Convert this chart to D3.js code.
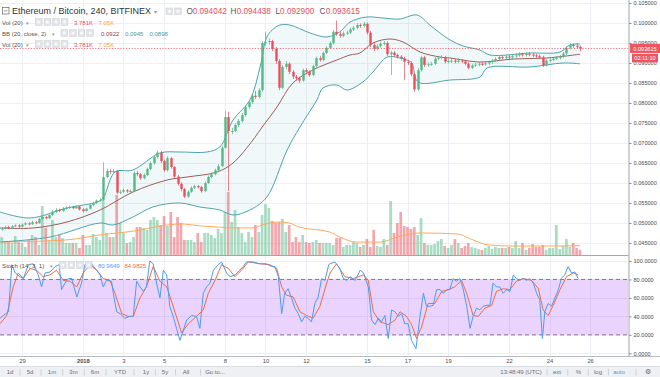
<!DOCTYPE html>
<html>
<head>
<meta charset="utf-8">
<script src="https://cdn.jsdelivr.net/npm/d3@7"></script>
<style>
  body { margin: 0; background: #fff; }
  svg { display: block; font-family: "Liberation Sans", Arial, sans-serif; }
</style>
</head>
<body>
<svg id="chart" width="660" height="377"></svg>
<script>
// time axis: candle index of each labelled day (6 candles of 240 min per day, index 0 = Dec 28 00:00)
var tickIdx = [6, 24, 36, 48, 66, 78, 90, 108, 120, 132, 150, 162, 174];
var tickLabels = ["29", "2018", "3", "5", "8", "10", "12", "15", "17", "19", "22", "24", "26"];
var priceTicks = [0.045, 0.05, 0.055, 0.06, 0.065, 0.07, 0.075, 0.08, 0.085, 0.09, 0.095, 0.1, 0.105];
var stochTicks = [0, 20, 40, 60, 80, 100];

// OHLC (each open = previous close)
var firstOpen = 0.0484;
var closes = [
  0.0486,0.0490,0.0488,0.0492,0.0494,0.0491,0.0496,0.0499,0.0497,0.0502,0.0500,0.0510,
  0.0515,0.0512,0.0520,0.0528,0.0533,0.0530,0.0536,0.0538,0.0540,0.0537,0.0541,0.0534,
  0.0530,0.0536,0.0545,0.0550,0.0556,0.0558,0.0615,0.0630,0.0628,0.0630,0.0576,0.0578,
  0.0582,0.0579,0.0580,0.0625,0.0622,0.0612,0.0620,0.0635,0.0650,0.0665,0.0676,0.0655,
  0.0632,0.0662,0.0640,0.0616,0.0598,0.0585,0.0566,0.0578,0.0588,0.0592,0.0590,0.0580,
  0.0600,0.0615,0.0622,0.0632,0.0642,0.0688,0.0765,0.0730,0.0730,0.0745,0.0755,0.0770,
  0.0790,0.0802,0.0818,0.0815,0.0832,0.0950,0.0953,0.0955,0.0935,0.0905,0.0838,0.0890,
  0.0898,0.0878,0.0866,0.0862,0.0856,0.0882,0.0878,0.0870,0.0892,0.0912,0.0908,0.0925,
  0.0938,0.0950,0.0978,0.0972,0.0968,0.0974,0.0976,0.0984,0.0988,0.0995,0.0993,0.0998,
  0.0976,0.0945,0.0936,0.0942,0.0948,0.0950,0.0922,0.0926,0.0920,0.0916,0.0912,0.0903,
  0.0900,0.0872,0.0834,0.0882,0.0914,0.0895,0.0897,0.0898,0.0911,0.0913,0.0915,0.0903,
  0.0905,0.0906,0.0903,0.0906,0.0904,0.0898,0.0888,0.0894,0.0896,0.0898,0.0897,0.0899,
  0.0902,0.0906,0.0910,0.0915,0.0913,0.0916,0.0914,0.0917,0.0919,0.0922,0.0920,0.0923,
  0.0921,0.0919,0.0917,0.0914,0.0894,0.0906,0.0908,0.0911,0.0913,0.0916,0.0924,0.0938,
  0.0945,0.0943,0.094042,0.093615
];
var highs = [
  0.0490,0.0493,0.0493,0.0495,0.0497,0.0497,0.0499,0.0503,0.0502,0.0506,0.0505,0.0513,
  0.0519,0.0518,0.0524,0.0532,0.0537,0.0536,0.0540,0.0542,0.0544,0.0543,0.0545,0.0544,
  0.0537,0.0539,0.0548,0.0553,0.0559,0.0562,0.0652,0.0636,0.0634,0.0635,0.0633,0.0583,
  0.0586,0.0585,0.0584,0.0629,0.0630,0.0625,0.0624,0.0639,0.0654,0.0670,0.0681,0.0680,
  0.0658,0.0667,0.0665,0.0643,0.0620,0.0602,0.0588,0.0582,0.0592,0.0596,0.0595,0.0593,
  0.0604,0.0619,0.0626,0.0636,0.0647,0.0692,0.0780,0.0778,0.0738,0.0750,0.0760,0.0775,
  0.0795,0.0807,0.0823,0.0830,0.0837,0.0955,0.0978,0.0962,0.0958,0.0940,0.0910,0.0895,
  0.0905,0.0902,0.0882,0.0870,0.0866,0.0886,0.0886,0.0882,0.0896,0.0916,0.0918,0.0929,
  0.0942,0.0954,0.0983,0.1006,0.0978,0.0979,0.0981,0.0989,0.0993,0.1000,0.0999,0.1003,
  0.1001,0.0980,0.0950,0.0947,0.0953,0.0955,0.0954,0.0930,0.0930,0.0924,0.0920,0.0916,
  0.0908,0.0904,0.0876,0.0887,0.0918,0.0918,0.0902,0.0903,0.0915,0.0918,0.0920,0.0918,
  0.0911,0.0912,0.0910,0.0911,0.0910,0.0908,0.0902,0.0898,0.0900,0.0902,0.0902,0.0903,
  0.0906,0.0910,0.0914,0.0920,0.0919,0.0921,0.0920,0.0922,0.0924,0.0927,0.0926,0.0928,
  0.0927,0.0925,0.0923,0.0921,0.0918,0.0910,0.0912,0.0915,0.0917,0.0920,0.0928,0.0942,
  0.0950,0.0949,0.0950,0.094438
];
var lows = [
  0.0481,0.0484,0.0485,0.0486,0.0490,0.0488,0.0489,0.0494,0.0494,0.0495,0.0497,0.0498,
  0.0507,0.0509,0.0510,0.0517,0.0525,0.0527,0.0528,0.0533,0.0535,0.0534,0.0535,0.0531,
  0.0526,0.0528,0.0534,0.0542,0.0548,0.0553,0.0555,0.0612,0.0622,0.0625,0.0572,0.0572,
  0.0575,0.0575,0.0576,0.0578,0.0617,0.0608,0.0609,0.0617,0.0632,0.0646,0.0661,0.0650,
  0.0628,0.0629,0.0636,0.0611,0.0594,0.0579,0.0562,0.0563,0.0575,0.0585,0.0586,0.0576,
  0.0577,0.0597,0.0612,0.0619,0.0629,0.0640,0.0686,0.0580,0.0722,0.0727,0.0740,0.0751,
  0.0766,0.0786,0.0798,0.0810,0.0811,0.0828,0.0944,0.0946,0.0930,0.0898,0.0832,0.0835,
  0.0884,0.0872,0.0860,0.0856,0.0850,0.0853,0.0872,0.0866,0.0867,0.0889,0.0904,0.0905,
  0.0922,0.0935,0.0946,0.0968,0.0963,0.0964,0.0970,0.0972,0.0980,0.0984,0.0988,0.0989,
  0.0971,0.0940,0.0930,0.0932,0.0938,0.0944,0.0917,0.0870,0.0915,0.0911,0.0906,0.0857,
  0.0895,0.0867,0.0828,0.0830,0.0878,0.0890,0.0891,0.0893,0.0895,0.0907,0.0909,0.0899,
  0.0899,0.0900,0.0899,0.0900,0.0900,0.0894,0.0884,0.0885,0.0890,0.0892,0.0893,0.0893,
  0.0895,0.0898,0.0902,0.0906,0.0909,0.0909,0.0910,0.0910,0.0913,0.0915,0.0916,0.0916,
  0.0917,0.0915,0.0913,0.0910,0.0890,0.0891,0.0902,0.0904,0.0907,0.0909,0.0912,0.0920,
  0.0934,0.0938,0.0936,0.0929
];
// volume in thousands
var volumes = [
  13.6,9.8,9.8,9.1,14.4,9.8,9.1,6.1,11.4,15.2,
  13.6,7.6,37.1,20.5,11.4,26.5,13.6,15.2,12.9,9.1,
  9.1,9.1,9.1,5.3,15.2,7.6,7.6,15.9,13.6,11.4,
  41.7,16.7,13.6,13.6,45.5,24.2,16.7,9.1,9.8,13.6,
  21.2,21.2,20.5,18.9,26.5,28.8,26.5,22.7,29.5,22.0,
  32.6,13.6,28.8,24.2,11.4,11.4,11.4,9.8,16.7,9.8,
  16.7,16.7,15.2,12.9,19.7,16.7,32.6,47.7,25.0,34.1,
  21.2,16.7,9.8,17.4,13.6,22.7,17.4,30.3,38.6,35.6,
  25.8,24.2,25.0,27.3,17.4,22.7,9.8,13.6,9.8,15.2,
  9.8,9.1,9.8,11.4,9.1,9.1,9.1,
  9.1,7.6,12.9,12.9,6.1,7.6,7.6,9.8,9.1,6.1,
  7.6,12.1,6.1,18.9,6.8,6.1,12.1,7.6,40.9,16.7,
  24.2,32.6,22.0,21.2,19.7,21.2,15.2,28.0,9.1,7.6,
  7.6,8.3,10.6,12.1,6.8,5.3,7.6,12.1,9.1,5.3,
  6.8,9.1,6.1,5.3,4.5,3.8,5.3,6.8,4.5,6.1,
  5.3,5.3,5.3,6.1,5.3,10.6,5.3,9.1,3.8,5.3,
  8.3,6.1,6.1,7.6,3.8,5.3,5.3,22.7,4.5,6.8,
  12.1,6.1,9.1,5.3,3.781
];
// Vol MA(20), [candle index, thousands]
var volMA = [[0,9.8],[19,11.4],[29,15.2],[41,18.9],[47,22],[53,23.5],[59,22],[64,21.2],[68,20.5],
  [74,20.5],[78,23.5],[82,25],[85,24.2],[88,21.2],[97,17.4],[100,13.6],[105,9.8],[112,9.8],
  [117,13.6],[124,16.7],[135,15.9],[138,12.9],[144,7.6],[151,6.8],[161,6.8],[171,7.05]];

// Bollinger bands (20, close, 2), [candle index, price]
var bbUpper = [[-0.5,0.05275],[8.4,0.05125],[19.3,0.05375],[28.2,0.05525],[30,0.05625],[33.5,0.06275],
  [38.8,0.06325],[46.8,0.0675],[52.7,0.06775],[60.7,0.06775],[64.5,0.069],[68.4,0.07575],[73.4,0.08075],
  [76.4,0.089],[78.4,0.0965],[80,0.09825],[82.3,0.0995],[85.2,0.0995],[91.2,0.0975],[96.2,0.0965],
  [100,0.0978],[103,0.10025],[108,0.1015],[112.7,0.10125],[117.8,0.101],[122.8,0.102],[126.6,0.0995],
  [129.6,0.0975],[132.6,0.09575],[136.4,0.09425],[141.4,0.09325],[144.4,0.092],[156.2,0.0925],
  [165.1,0.09275],[168,0.0945],[171,0.09475]];
var bbMid = [[-0.5,0.04875],[9.3,0.04875],[19.3,0.05025],[29.1,0.05325],[38.8,0.05775],[48.9,0.06075],
  [54.8,0.0615],[63.7,0.06275],[68.4,0.065],[74.3,0.07075],[76.4,0.07325],[81.4,0.079],[86.1,0.085],
  [92,0.08825],[99.1,0.09075],[103,0.092],[105.9,0.0925],[109.8,0.095],[114.8,0.096],[118.7,0.09525],
  [123.7,0.09275],[129.6,0.0915],[132.6,0.09125],[141.4,0.09025],[151.2,0.091],[161.2,0.09125],[171,0.0922]];
var bbLower = [[-0.5,0.04525],[14.3,0.0465],[29.1,0.05],[32.9,0.0495],[38.8,0.0515],[44.7,0.054],
  [52.7,0.055],[58.6,0.054],[64.5,0.05325],[68.4,0.052],[73.4,0.05325],[78.4,0.0565],[84.4,0.06825],
  [88.2,0.074],[93.2,0.08075],[95,0.08375],[99.1,0.0845],[102.1,0.08325],[106.8,0.08525],[109.8,0.08775],
  [114,0.0915],[117.8,0.09125],[119.8,0.09075],[121.3,0.09],[123.1,0.08525],[132.6,0.08575],
  [141.4,0.0865],[143.5,0.08875],[156.2,0.089],[166,0.09],[171,0.0898]];

// Stoch (14, 3, 1), [candle index, value]
var stochK = [[-0.5,38],[0.5,41],[2,45],[3,96],[4,87],[5.4,83],[6.4,81],[7.9,96],[9.3,97],[10.8,85],
  [11.8,72],[12.8,87],[14.3,88],[15.8,94],[17,96],[17.7,69],[18.7,76],[19.7,81],[20.7,81],[22.2,61],
  [23.6,76],[24.6,96],[25.6,97],[26.6,97],[28.1,90],[29.1,85],[30,72],[31,79],[32.5,78],[33,65],
  [34,45],[35,43],[36.4,38],[37.9,40],[38.9,40],[39.9,78],[40.9,72],[41.9,67],[42.8,72],[43.8,100],
  [44.8,97],[45.8,76],[46.8,60],[47.8,90],[48.8,85],[49.7,51],[50.7,40],[51.7,27],[52.7,14],[53.7,25],
  [54.7,36],[56.2,41],[57.6,40],[58.6,27],[59.6,65],[60.6,72],[61.6,76],[62.6,90],[64,96],[65,99],
  [66.5,87],[67.5,83],[69,85],[70.4,90],[71.4,94],[72.4,99],[74.4,99],[76.3,97],[78.3,97],[79.8,94],
  [80.8,94],[81.8,83],[82.8,43],[83.7,65],[84.7,70],[85.7,60],[86.7,49],[87.7,43],[88.7,34],[89.6,40],
  [90.6,38],[91.6,34],[92.6,54],[93.6,61],[94.6,81],[95.6,79],[96.7,96],[97.1,97],[98.5,99],[100,92],
  [101,81],[102,79],[103,83],[104.5,79],[106,90],[107,87],[108.4,72],[109.4,36],[110.4,31],[111.4,38],
  [112.3,34],[113.3,41],[114.3,16],[115.3,47],[116.3,45],[117.3,40],[118.3,43],[119.2,32],[120.2,32],
  [121.2,14],[122.5,5],[123.7,40],[124.7,65],[125.6,51],[126.6,51],[127.6,52],[128.6,69],[129.6,69],
  [130.6,65],[131.6,69],[132.5,69],[133.5,81],[134.5,78],[135.5,81],[136.5,69],[137.5,51],[138.5,27],
  [139.4,40],[140.4,49],[141.4,47],[142.4,51],[143.4,52],[144.4,52],[145.3,76],[146.3,72],[147.3,72],
  [148.3,65],[149.3,69],[150.3,67],[151.3,85],[152.2,81],[153.2,79],[154.2,81],[155.2,79],[156.2,81],
  [157.2,76],[158.2,65],[159.1,58],[159.9,16],[160.6,45],[161.6,54],[162.6,51],[163.6,60],[164.6,69],
  [165.5,81],[166.5,85],[167.5,94],[168.5,87],[169.5,88],[170.5,80.96]];
var stochD = [[-0.5,32],[1.5,41],[3.4,72],[4.9,87],[6.4,81],[8.4,92],[10.3,90],[12.3,83],[14.3,85],
  [16.2,90],[18.2,79],[20.2,78],[22.2,72],[24.1,87],[26.1,96],[28.1,90],[30,81],[32,79],[33.5,65],
  [35.5,43],[37.4,40],[38.9,40],[40.9,60],[42.8,72],[44.8,94],[46.8,78],[48.8,72],[50.7,51],[53.2,22],
  [55.2,32],[57.6,40],[59.6,47],[61.1,65],[63.1,79],[65,96],[67,92],[69,83],[70.9,90],[72.9,99],
  [76.3,97],[79.3,96],[81.3,92],[82.8,72],[84.2,63],[86.2,61],[88.2,45],[90.1,41],[92.1,38],[94.1,51],
  [96.1,76],[97.1,87],[99,97],[101.5,83],[104,81],[107,85],[108.4,79],[109.9,45],[111.9,34],[114.3,31],
  [116.3,36],[117.8,45],[119.7,40],[121.2,31],[122.7,16],[124.2,29],[126.1,54],[128.1,54],[130.1,67],
  [132.1,69],[134,72],[136,79],[137.5,65],[139.4,41],[140.9,40],[142.9,49],[144.9,52],[146.3,67],
  [148.3,70],[150.3,69],[152.2,78],[154.2,81],[156.7,79],[158.7,70],[160.1,47],[161.6,41],[163.1,52],
  [165.1,69],[167,83],[169,87],[170.5,84.98]];

var lastPrice = 0.093615;

var upColor = "#53b987", downColor = "#eb4d5c";
var gridColor = "#eceff4";

var svg = d3.select("#chart");

// scales
var x = d3.scaleLinear().domain([0, 185.5]).range([1.7, 629]);
var y = d3.scaleLinear().domain([0.045, 0.105]).range([243, 3]);
var yVol = d3.scaleLinear().domain([0, 50]).range([255, 189]);
var yStoch = d3.scaleLinear().domain([0, 100]).range([353.3, 261]);

var candles = closes.map(function (c, i) {
  return { i: i, o: i ? closes[i - 1] : firstOpen, h: highs[i], l: lows[i], c: c, v: volumes[i] };
});

var defs = svg.append("defs");
defs.append("clipPath").attr("id", "clipMain")
  .append("rect").attr("x", 0).attr("y", 0).attr("width", 628).attr("height", 255);
defs.append("clipPath").attr("id", "clipStoch")
  .append("rect").attr("x", 0).attr("y", 256).attr("width", 628).attr("height", 100);

// ---- grid
var grid = svg.append("g");
grid.selectAll(".hgrid").data(priceTicks).enter().append("line")
  .attr("x1", 0).attr("x2", 628)
  .attr("y1", function (d) { return Math.round(y(d)) + 0.5; })
  .attr("y2", function (d) { return Math.round(y(d)) + 0.5; })
  .attr("stroke", gridColor);
grid.selectAll(".vgrid").data(tickIdx).enter().append("line")
  .attr("x1", function (d) { return Math.round(x(d)) + 0.5; })
  .attr("x2", function (d) { return Math.round(x(d)) + 0.5; })
  .attr("y1", 0).attr("y2", 356)
  .attr("stroke", gridColor);
grid.selectAll(".sgrid").data(stochTicks).enter().append("line")
  .attr("x1", 0).attr("x2", 628)
  .attr("y1", function (d) { return Math.round(yStoch(d)) + 0.5; })
  .attr("y2", function (d) { return Math.round(yStoch(d)) + 0.5; })
  .attr("stroke", gridColor);

// ---- main pane
var main = svg.append("g").attr("clip-path", "url(#clipMain)");

var bbLine = d3.line()
  .x(function (d) { return x(d[0]); })
  .y(function (d) { return y(d[1]); })
  .curve(d3.curveCatmullRom.alpha(0.5));

// band fill: upper forward, lower backward
var fillPath = bbLine(bbUpper) + bbLine(bbLower.slice().reverse()).replace(/^M/, "L") + "Z";
main.append("path").attr("d", fillPath).attr("fill", "rgba(76,165,173,0.08)");

// volume bars
main.selectAll(".vol").data(candles).enter().append("rect")
  .attr("x", function (d) { return x(d.i) - 1.35; })
  .attr("width", 2.7)
  .attr("y", function (d) { return yVol(d.v); })
  .attr("height", function (d) { return yVol(0) - yVol(d.v); })
  .attr("fill", function (d) { return d.c >= d.o ? upColor : downColor; })
  .attr("opacity", 0.5);

main.append("path").datum(volMA)
  .attr("d", d3.line()
    .x(function (d) { return x(d[0]); })
    .y(function (d) { return yVol(d[1]); })
    .curve(d3.curveMonotoneX))
  .attr("fill", "none").attr("stroke", "#ffa95e").attr("stroke-width", 1);

main.append("path").datum(bbUpper).attr("d", bbLine)
  .attr("fill", "none").attr("stroke", "#4ea5ad").attr("stroke-width", 1);
main.append("path").datum(bbLower).attr("d", bbLine)
  .attr("fill", "none").attr("stroke", "#4ea5ad").attr("stroke-width", 1);
main.append("path").datum(bbMid).attr("d", bbLine)
  .attr("fill", "none").attr("stroke", "#9e5c5c").attr("stroke-width", 1);

// candles
var cg = main.selectAll(".candle").data(candles).enter().append("g");
cg.append("line")
  .attr("x1", function (d) { return Math.round(x(d.i)) + 0.5; })
  .attr("x2", function (d) { return Math.round(x(d.i)) + 0.5; })
  .attr("y1", function (d) { return y(d.h); })
  .attr("y2", function (d) { return y(d.l); })
  .attr("stroke", function (d) { return d.c >= d.o ? upColor : downColor; })
  .attr("stroke-opacity", 0.7);
cg.append("rect")
  .attr("x", function (d) { return Math.round(x(d.i)) + 0.5 - 1.2; })
  .attr("width", 2.4)
  .attr("y", function (d) { return y(Math.max(d.o, d.c)); })
  .attr("height", function (d) { return Math.max(1, Math.abs(y(d.o) - y(d.c))); })
  .attr("fill", function (d) { return d.c >= d.o ? upColor : downColor; });

// last price line
svg.append("line")
  .attr("x1", 0).attr("x2", 629)
  .attr("y1", y(lastPrice)).attr("y2", y(lastPrice))
  .attr("stroke", downColor).attr("stroke-width", 0.8).attr("stroke-dasharray", "1.2,1.6");

// ---- stoch pane
var st = svg.append("g").attr("clip-path", "url(#clipStoch)");
st.append("rect")
  .attr("x", 0).attr("width", 628)
  .attr("y", yStoch(80)).attr("height", yStoch(20) - yStoch(80))
  .attr("fill", "rgba(160,60,245,0.22)");
[80, 20].forEach(function (v) {
  st.append("line").attr("x1", 0).attr("x2", 628)
    .attr("y1", yStoch(v)).attr("y2", yStoch(v))
    .attr("stroke", "#85798f").attr("stroke-dasharray", "4,3");
});
var sLine = d3.line()
  .x(function (d) { return x(d[0]); })
  .y(function (d) { return yStoch(d[1]); });
st.append("path").datum(stochD).attr("d", sLine)
  .attr("fill", "none").attr("stroke", "#f26a43").attr("stroke-width", 1);
st.append("path").datum(stochK).attr("d", sLine)
  .attr("fill", "none").attr("stroke", "#4d9cf2").attr("stroke-width", 1);

// ---- separators
svg.append("line").attr("x1", 0).attr("x2", 629).attr("y1", 255.5).attr("y2", 255.5)
  .attr("stroke", "#a3a6ad");
svg.append("line").attr("x1", 0).attr("x2", 660).attr("y1", 356.5).attr("y2", 356.5)
  .attr("stroke", "#b9bcc3");
svg.append("line").attr("x1", 629).attr("x2", 629).attr("y1", 0).attr("y2", 357)
  .attr("stroke", "#c4c7cd").attr("stroke-width", 1.6);

// ---- axes
function styleAxis(g, size) {
  g.select(".domain").remove();
  g.selectAll(".tick line").attr("stroke", "#8d9099");
  g.selectAll(".tick text").attr("fill", "#4a4e58").style("font-size", size + "px")
    .style("font-family", "'Liberation Sans', Arial, sans-serif");
}
svg.append("g").attr("transform", "translate(629,0)")
  .call(d3.axisRight(y).tickValues(priceTicks).tickFormat(d3.format(".6f")).tickSize(2.5).tickPadding(2))
  .call(styleAxis, 5.6);
svg.append("g").attr("transform", "translate(629,0)")
  .call(d3.axisRight(yStoch).tickValues(stochTicks).tickFormat(d3.format(".4f")).tickSize(2.5).tickPadding(2))
  .call(styleAxis, 5.6);
var xAxis = svg.append("g").attr("transform", "translate(0,356)")
  .call(d3.axisBottom(x).tickValues(tickIdx)
    .tickFormat(function (d, i) { return tickLabels[i]; }).tickSize(0).tickPadding(3))
  .call(styleAxis, 5.8);
xAxis.selectAll(".tick text").style("font-weight", function (d, i) { return tickLabels[i] === "2018" ? "bold" : "normal"; });

// last price labels on the axis
var ly = y(lastPrice);
svg.append("rect").attr("x", 630).attr("y", ly - 4.8).attr("width", 30).attr("height", 9.2).attr("fill", "#ef5461");
svg.append("text").attr("x", 645).attr("y", ly + 2).attr("text-anchor", "middle")
  .attr("fill", "#fff").style("font-size", "5.6px").text("0.093615");
svg.append("rect").attr("x", 632).attr("y", ly + 5.2).attr("width", 26).attr("height", 8.6).attr("fill", "#ef5461");
svg.append("text").attr("x", 645).attr("y", ly + 11.7).attr("text-anchor", "middle")
  .attr("fill", "#fff").style("font-size", "5.6px").text("02:11:10");

// ---- legend / header
function icons(x0, yTop, n) {
  for (var k = 0; k < n; k++) {
    svg.append("rect").attr("x", x0 + k * 8.6).attr("y", yTop).attr("width", 6.6).attr("height", 6.6)
      .attr("fill", "#e3e5ea").attr("stroke", "#c8cbd1").attr("stroke-width", 0.5);
    svg.append("rect").attr("x", x0 + k * 8.6 + 2).attr("y", yTop + 2).attr("width", 2.6).attr("height", 2.6)
      .attr("fill", "#fafafa");
  }
}
function label(xp, yp, txt, color, size) {
  return svg.append("text").attr("x", xp).attr("y", yp).attr("fill", color)
    .style("font-size", size + "px").text(txt);
}

svg.append("rect").attr("x", 2.5).attr("y", 7.5).attr("width", 6.5).attr("height", 6.5)
  .attr("fill", "#fff").attr("stroke", "#666").attr("stroke-width", 0.7);
svg.append("line").attr("x1", 4).attr("x2", 7.5).attr("y1", 10.75).attr("y2", 10.75)
  .attr("stroke", "#666").attr("stroke-width", 0.7);
label(12, 14, "Ethereum / Bitcoin, 240, BITFINEX", "#333", 9);
label(154, 13.5, "▾", "#999", 6);
icons(166, 8, 2);
var ohlcLabels = ["O", "H", "L", "C"];
var ohlcValues = ["0.094042", "0.094438", "0.092900", "0.093615"];
var ohlcX = [186.5, 230.5, 275.5, 319.5];
ohlcLabels.forEach(function (t, k) {
  label(ohlcX[k], 14, t, "#555", 8.2);
  label(ohlcX[k] + (t === "L" ? 4.6 : 6.2), 14, ohlcValues[k], downColor, 8.2);
});

[24.5, 46.5].forEach(function (yy) {
  label(2, yy, "Vol (20)", "#555", 6);
  label(26, yy, "▾", "#999", 5);
  icons(35.5, yy - 5.8, 4);
  label(74, yy, "3.781K", downColor, 6);
  label(98.5, yy, "7.05K", "#f8a24e", 6);
});
label(2, 35.5, "BB (20, close, 2)", "#555", 6);
label(52, 35.5, "▾", "#999", 5);
icons(61, 29.7, 4);
label(101, 35.5, "0.0922", "#8c4646", 6);
label(125, 35.5, "0.0945", "#3c9ea6", 6);
label(149.5, 35.5, "0.0898", "#3c9ea6", 6);

label(2, 267.5, "Stoch (14, 3, 1)", "#555", 6.2);
label(49.5, 267.5, "▾", "#999", 5);
icons(59.5, 261.7, 4);
label(98, 267.5, "80.9649", "#4d9cf2", 6);
label(124.5, 267.5, "84.9825", "#f26a43", 6);

// ---- bottom toolbar
svg.append("rect").attr("x", 0).attr("y", 366.5).attr("width", 660).attr("height", 10.5).attr("fill", "#eef0f3");
svg.append("line").attr("x1", 0).attr("x2", 660).attr("y1", 366.5).attr("y2", 366.5).attr("stroke", "#d9dce1");
var leftBtns = ["1d", "5d", "1m", "3m", "6m", "YTD", "1y", "5y", "All", "Go to..."];
var leftBtnX = [10, 30, 52, 73.5, 95, 120, 146, 165, 186, 215];
leftBtns.forEach(function (t, k) {
  label(leftBtnX[k], 374.3, t, "#6b6e78", 6).attr("text-anchor", "middle");
  if (k < leftBtns.length - 1) {
    var sx = k === 4 ? 106 : k === 5 ? 134 : (leftBtnX[k] + leftBtnX[k + 1]) / 2;
    svg.append("line").attr("x1", sx).attr("x2", sx).attr("y1", 369).attr("y2", 375.5).attr("stroke", "#cfd2d8");
  }
});
var rightBtns = ["13:48:49 (UTC)", "ext", "%", "log", "auto", "⚙"];
var rightBtnX = [521, 557, 578.5, 598, 619, 648];
rightBtns.forEach(function (t, k) {
  label(rightBtnX[k], 374.3, t, t === "auto" ? "#3d9fe8" : "#6b6e78", t === "⚙" ? 7 : 6)
    .attr("text-anchor", "middle");
  if (k < rightBtns.length - 1) {
    var sx = k === 0 ? 547 : k === 4 ? 636 : (rightBtnX[k] + rightBtnX[k + 1]) / 2;
    svg.append("line").attr("x1", sx).attr("x2", sx).attr("y1", 369).attr("y2", 375.5).attr("stroke", "#cfd2d8");
  }
});
</script>
</body>
</html>
